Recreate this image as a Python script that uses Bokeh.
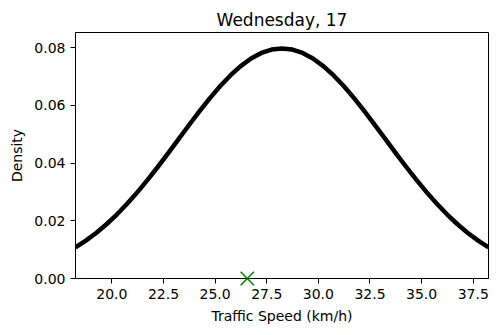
from bokeh.plotting import figure
from bokeh.models import Range1d, FixedTicker, NumeralTickFormatter
from bokeh.embed import file_html
from bokeh.resources import INLINE

# Density curve of traffic speed
speed = [18.24, 18.74, 19.24, 19.74, 20.24, 20.74, 21.24, 21.74, 22.24, 22.74,
         23.24, 23.74, 24.24, 24.74, 25.24, 25.74, 26.24, 26.74, 27.24, 27.74,
         28.24, 28.74, 29.24, 29.74, 30.24, 30.74, 31.24, 31.74, 32.24, 32.74,
         33.24, 33.74, 34.24, 34.74, 35.24, 35.74, 36.24, 36.74, 37.24, 37.74,
         38.24]
density = [0.01080, 0.01312, 0.01579, 0.01881, 0.02218, 0.02590, 0.02995, 0.03427,
           0.03884, 0.04357, 0.04840, 0.05322, 0.05794, 0.06245, 0.06665, 0.07041,
           0.07366, 0.07628, 0.07821, 0.07939, 0.07979, 0.07939, 0.07821, 0.07628,
           0.07366, 0.07041, 0.06665, 0.06245, 0.05794, 0.05322, 0.04840, 0.04357,
           0.03884, 0.03427, 0.02995, 0.02590, 0.02218, 0.01881, 0.01579, 0.01312,
           0.01080]
marker_speed = [26.56]
marker_density = [0.0]

x_ticks = [20.0, 22.5, 25.0, 27.5, 30.0, 32.5, 35.0, 37.5]
y_ticks = [0.0, 0.02, 0.04, 0.06, 0.08]

FONT = "DejaVu Sans"

p = figure(frame_width=413, frame_height=246, output_backend="svg",
           toolbar_location=None, title="Wednesday, 17",
           x_range=Range1d(18.24, 38.24), y_range=Range1d(0, 0.0853),
           min_border_left=75, min_border_right=4, min_border_top=32,
           min_border_bottom=48)

p.title.align = "center"
p.title.text_font = FONT
p.title.text_font_size = "17px"
p.title.text_font_style = "normal"
p.title.text_color = "black"
p.title.standoff = 5

p.outline_line_color = "black"
p.outline_line_width = 1
p.grid.visible = False
p.background_fill_color = "white"
p.border_fill_color = "white"

for ax in (p.xaxis[0], p.yaxis[0]):
    ax.axis_line_color = "black"
    ax.major_tick_line_color = "black"
    ax.major_tick_out = 5
    ax.major_tick_in = 0
    ax.minor_tick_line_color = None
    ax.major_label_text_font = FONT
    ax.major_label_text_font_size = "14px"
    ax.major_label_text_color = "black"
    ax.axis_label_text_font = FONT
    ax.axis_label_text_font_size = "14px"
    ax.axis_label_text_font_style = "normal"
    ax.axis_label_text_color = "black"
    ax.major_label_standoff = 5
    ax.axis_label_standoff = 6

p.xaxis.ticker = FixedTicker(ticks=x_ticks)
p.xaxis.formatter = NumeralTickFormatter(format="0.0")
p.yaxis.ticker = FixedTicker(ticks=y_ticks)
p.yaxis.formatter = NumeralTickFormatter(format="0.00")
p.xaxis.axis_label = "Traffic Speed (km/h)"
p.yaxis.axis_label = "Density"

p.line(speed, density, line_color="black", line_width=4.5, line_join="round")
r = p.scatter(marker_speed, marker_density, marker="x", size=19,
              line_color="#008000", line_width=1.5)
r.level = "overlay"

open("out.html", "w").write(file_html(p, INLINE))
